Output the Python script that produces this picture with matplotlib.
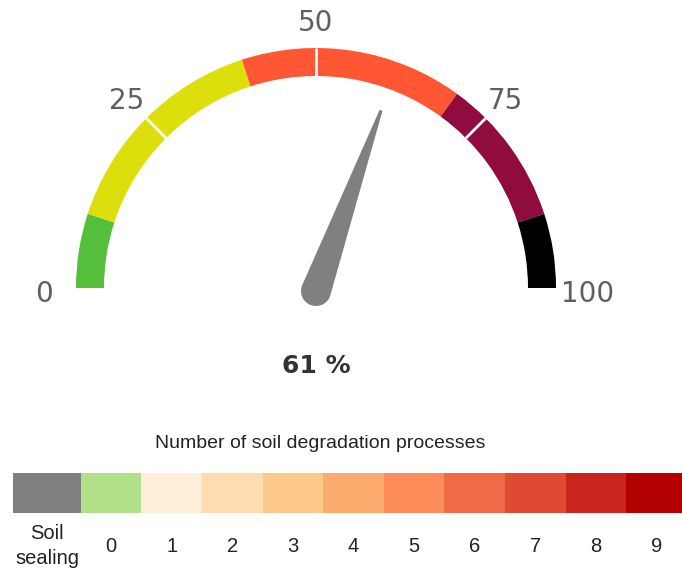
import numpy as np
import matplotlib
matplotlib.use("Agg")
import matplotlib.pyplot as plt
from matplotlib.patches import Wedge, Polygon

# ---- gauge data ----
band_edges = [0, 10, 40, 70, 90, 100]
band_colors = ["#55BF3B", "#DDDF0D", "#FF5733", "#900C3F", "#000000"]
tick_values = [0, 25, 50, 75, 100]
tick_labels = ["0", "25", "50", "75", "100"]
gauge_value = 61
value_label = "61 %"

# ---- legend data ----
legend_title = "Number of soil degradation processes"
legend_labels = ["Soil\nsealing", "0", "1", "2", "3", "4", "5", "6", "7", "8", "9"]
legend_colors = ["#808080", "#b2df8a", "#ffefda", "#fddcb0", "#fdc98b",
                 "#fcab6f", "#fc8c5a", "#ef6a47", "#e04a32", "#c9251c", "#b30000"]
legend_widths = [1.12] + [1.0] * 10

W, H = 682, 571
fig = plt.figure(figsize=(W / 100, H / 100), dpi=100)

# Gauge drawn in a pixel-like coordinate system (y downward)
ax = fig.add_axes([0, 0, 1, 1])
ax.set_xlim(0, W)
ax.set_ylim(H, 0)
ax.set_aspect("equal")
ax.axis("off")

cx, cy = 316, 288
r_out, r_in = 240, 212
vmin, vmax = 0, 100


def ang(v):
    # value -> angle in degrees (0 at left, 100 at right)
    return 180 - (v - vmin) / (vmax - vmin) * 180


def pt(v, r):
    a = np.deg2rad(ang(v))
    return cx + r * np.cos(a), cy - r * np.sin(a)


# coloured bands
for lo, hi, col in zip(band_edges[:-1], band_edges[1:], band_colors):
    # the y axis is inverted, so the wedge angles are negated
    a1, a2 = -ang(lo), -ang(hi)
    ax.add_patch(Wedge((cx, cy), r_out, min(a1, a2), max(a1, a2),
                       width=r_out - r_in, facecolor=col, edgecolor="none"))

# white tick lines across the band and outside labels
for v, lab in zip(tick_values, tick_labels):
    if vmin < v < vmax:
        x0, y0 = pt(v, r_in)
        x1, y1 = pt(v, r_out)
        ax.plot([x0, x1], [y0, y1], color="white", lw=2, solid_capstyle="butt")
    lx, ly = pt(v, 268)
    if v == vmin:
        lx, ly = cx - 272, cy + 3
    elif v == vmax:
        lx, ly = cx + 272, cy + 3
    ax.text(lx, ly + 3, lab, ha="center", va="center", fontsize=20,
            color="#5f5f5f", family="DejaVu Sans")

# needle
a = np.deg2rad(ang(gauge_value))
ux, uy = np.cos(a), -np.sin(a)          # along needle (display y flipped)
px, py = -uy, ux                        # perpendicular
base_r, tip_w, length = 15, 1.5, 192
pcx, pcy = cx, cy + 3
tipx, tipy = pcx + ux * length, pcy + uy * length
pts = [(tipx + px * tip_w, tipy + py * tip_w)]
for t in np.linspace(0, np.pi, 30):
    dx = px * np.cos(t) - ux * np.sin(t)
    dy = py * np.cos(t) - uy * np.sin(t)
    pts.append((pcx + base_r * dx, pcy + base_r * dy))
pts.append((tipx - px * tip_w, tipy - py * tip_w))
ax.add_patch(Polygon(pts, closed=True, facecolor="#808080", edgecolor="none"))

ax.text(cx, 366, value_label, ha="center", va="center", fontsize=18,
        fontweight="bold", color="#333333", family="DejaVu Sans")

# ---- legend bar ----
bar_left_px, bar_top_px, bar_bot_px = 13, 473, 513
unit_px = 60.6
bar_h_px = bar_bot_px - bar_top_px
lax = fig.add_axes([bar_left_px / W, (H - bar_bot_px) / H,
                    (W - bar_left_px) / W, bar_h_px / H])
lefts = np.concatenate([[0], np.cumsum(legend_widths)[:-1]])
centers = lefts + np.array(legend_widths) / 2
lax.bar(lefts, [1] * len(lefts), width=legend_widths, align="edge",
        color=legend_colors, edgecolor="none")
lax.set_xlim(0, (W - bar_left_px) / unit_px)
lax.set_ylim(0, 1)
lax.set_xticks([])
lax.set_yticks([])
for s in lax.spines.values():
    s.set_visible(False)

# category labels, vertically centred below the bar
label_y = -33 / bar_h_px
for xc, lab in zip(centers, legend_labels):
    lax.text(xc, label_y, lab, ha="center", va="center", fontsize=14.5,
             color="#222222", family="Liberation Sans", linespacing=1.45,
             transform=lax.get_xaxis_transform(), clip_on=False)

fig.text((bar_left_px + 307) / W, 1 - 444 / H, legend_title, ha="center",
         va="center", fontsize=14, color="#222222", family="Liberation Sans")

fig.savefig("out.png", dpi=100, facecolor="white")
